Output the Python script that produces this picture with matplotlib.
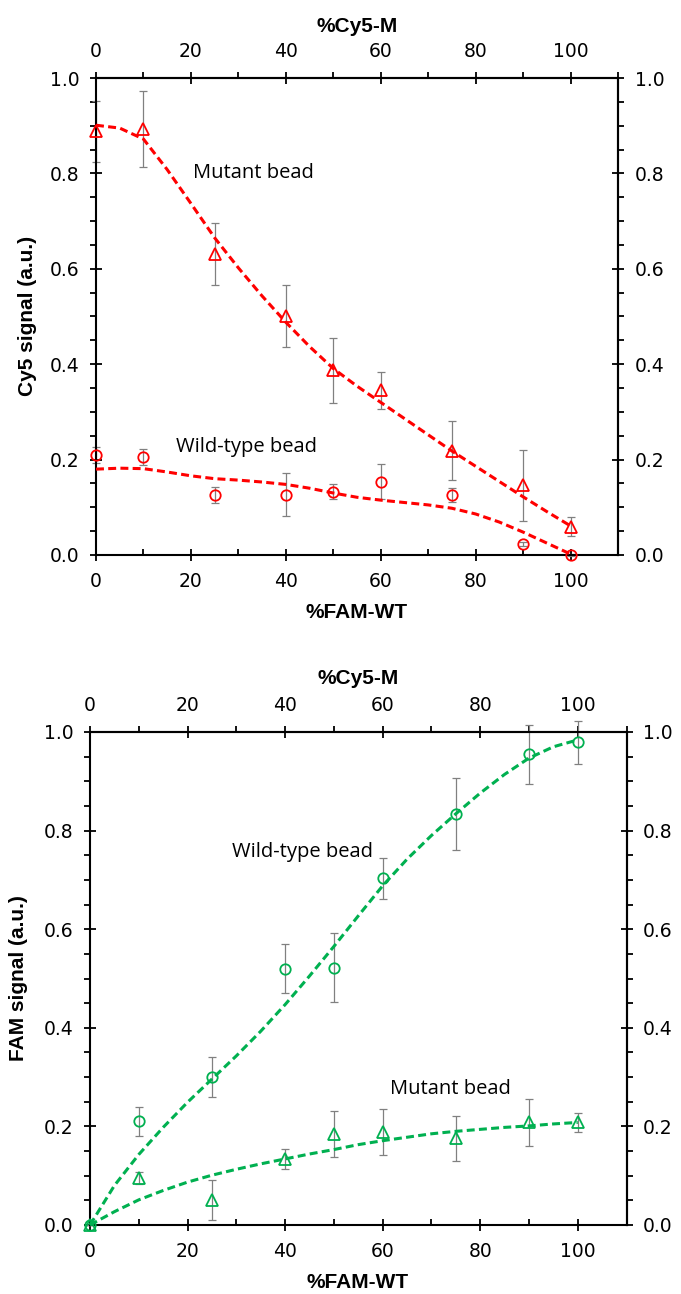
import matplotlib
matplotlib.use("Agg")
import matplotlib.pyplot as plt
from matplotlib.ticker import MultipleLocator, FixedLocator, FormatStrFormatter

# ---- data -------------------------------------------------------------
pct = [0, 10, 25, 40, 50, 60, 75, 90, 100]

# Cy5 channel
cy5_mut = [0.888, 0.893, 0.630, 0.501, 0.387, 0.345, 0.219, 0.146, 0.059]
cy5_mut_err = [0.064, 0.079, 0.065, 0.064, 0.068, 0.038, 0.062, 0.075, 0.020]
cy5_wt = [0.210, 0.205, 0.126, 0.126, 0.133, 0.154, 0.126, 0.023, 0.000]
cy5_wt_err = [0.017, 0.017, 0.017, 0.045, 0.015, 0.037, 0.014, 0.005, 0.002]

# FAM channel
fam_wt = [0.000, 0.210, 0.300, 0.520, 0.522, 0.703, 0.833, 0.955, 0.979]
fam_wt_err = [0.000, 0.030, 0.040, 0.050, 0.070, 0.042, 0.073, 0.060, 0.044]
fam_mut = [0.000, 0.096, 0.051, 0.134, 0.185, 0.189, 0.176, 0.208, 0.208]
fam_mut_err = [0.000, 0.012, 0.041, 0.020, 0.047, 0.046, 0.046, 0.047, 0.020]

# trend curves
fit_x = [0, 5, 10, 15, 20, 25, 30, 35, 40, 45, 50,
         55, 60, 65, 70, 75, 80, 85, 90, 95, 100]
cy5_mut_fit = [0.901, 0.895, 0.872, 0.808, 0.737, 0.665, 0.602, 0.543, 0.488, 0.437, 0.391,
               0.354, 0.320, 0.286, 0.252, 0.218, 0.186, 0.154, 0.122, 0.091, 0.061]
cy5_wt_fit = [0.180, 0.182, 0.181, 0.174, 0.166, 0.160, 0.157, 0.153, 0.148, 0.140, 0.130,
              0.121, 0.115, 0.110, 0.105, 0.098, 0.086, 0.069, 0.048, 0.025, 0.002]
fam_wt_fit = [0.000, 0.080, 0.143, 0.198, 0.249, 0.296, 0.343, 0.393, 0.447, 0.505, 0.565,
              0.627, 0.688, 0.742, 0.790, 0.834, 0.876, 0.914, 0.947, 0.970, 0.984]
fam_mut_fit = [0.000, 0.027, 0.051, 0.070, 0.087, 0.101, 0.113, 0.124, 0.134, 0.144, 0.153,
               0.163, 0.171, 0.178, 0.185, 0.190, 0.194, 0.198, 0.201, 0.205, 0.208]

x_ticks = [0, 20, 40, 60, 80, 100]
y_ticks = [0.0, 0.2, 0.4, 0.6, 0.8, 1.0]
y_minor = [i * 0.05 for i in range(21)]

RED = "#FF0000"
GREEN = "#00B050"
GREY = "#808080"
W, H = 681, 1294

TICK_FONT = dict(family="DejaVu Sans", size=13.5)
LABEL_FONT = dict(family="Liberation Sans", size=15, weight="bold")
NOTE_FONT = dict(family="Open Sans", size=14.5)

fig = plt.figure(figsize=(W / 100, H / 100), dpi=100)


def px_axes(left, top, right, bottom):
    return fig.add_axes([left / W, 1 - bottom / H, (right - left) / W, (bottom - top) / H])


def style_axes(ax):
    ax.set_xlim(0, 110)
    ax.set_ylim(0, 1.0)
    for s in ax.spines.values():
        s.set_linewidth(1.5)
        s.set_color("black")
    ax.xaxis.set_major_locator(FixedLocator(x_ticks))
    ax.xaxis.set_minor_locator(MultipleLocator(10))
    ax.yaxis.set_major_locator(FixedLocator(y_ticks))
    ax.yaxis.set_minor_locator(FixedLocator(y_minor))
    ax.yaxis.set_major_formatter(FormatStrFormatter("%.1f"))
    ax.tick_params(which="major", direction="inout", length=8, width=1.3, pad=8,
                   labelsize=TICK_FONT["size"])
    ax.tick_params(axis="x", which="minor", direction="in", length=4, width=1.3)
    ax.tick_params(axis="y", which="minor", direction="out", length=4, width=1.3)
    for lab in ax.get_xticklabels() + ax.get_yticklabels():
        lab.set_family(TICK_FONT["family"])

    top = ax.secondary_xaxis("top")
    top.xaxis.set_major_locator(FixedLocator(x_ticks))
    top.xaxis.set_minor_locator(MultipleLocator(10))
    top.tick_params(which="major", direction="inout", length=8, width=1.3, pad=8,
                    labelsize=TICK_FONT["size"])
    top.tick_params(which="minor", direction="out", length=4, width=1.3)
    top.spines["top"].set_linewidth(1.5)
    for lab in top.get_xticklabels():
        lab.set_family(TICK_FONT["family"])

    right = ax.secondary_yaxis("right")
    right.yaxis.set_major_locator(FixedLocator(y_ticks))
    right.yaxis.set_minor_locator(FixedLocator(y_minor))
    right.yaxis.set_major_formatter(FormatStrFormatter("%.1f"))
    right.tick_params(which="major", direction="inout", length=8, width=1.3, pad=8,
                      labelsize=TICK_FONT["size"])
    right.tick_params(which="minor", direction="out", length=4, width=1.3)
    right.spines["right"].set_linewidth(1.5)
    for lab in right.get_yticklabels():
        lab.set_family(TICK_FONT["family"])


def series(ax, y, err, fit, color, marker):
    ax.errorbar(pct, y, yerr=err, fmt="none", ecolor=GREY, elinewidth=0.9,
                capsize=3, capthick=0.9, zorder=2, clip_on=False)
    ax.plot(pct, y, linestyle="none", marker=marker, markersize=8 if marker == "^" else 7.5,
            markerfacecolor="none", markeredgecolor=color, markeredgewidth=1.3,
            zorder=3, clip_on=False)
    ax.plot(fit_x, fit, color=color, linewidth=2.2, linestyle=(0, (2.6, 1.4)),
            zorder=4, clip_on=False)


# ---- Cy5 panel --------------------------------------------------------
ax1 = px_axes(96, 78, 618, 555)
style_axes(ax1)
series(ax1, cy5_mut, cy5_mut_err, cy5_mut_fit, RED, "^")
series(ax1, cy5_wt, cy5_wt_err, cy5_wt_fit, RED, "o")
ax1.text(20.4, 0.80, "Mutant bead", ha="left", va="center", **NOTE_FONT)
ax1.text(16.8, 0.227, "Wild-type bead", ha="left", va="center", **NOTE_FONT)

# ---- FAM panel --------------------------------------------------------
ax2 = px_axes(90, 732, 626.5, 1225)
style_axes(ax2)
series(ax2, fam_wt, fam_wt_err, fam_wt_fit, GREEN, "o")
series(ax2, fam_mut, fam_mut_err, fam_mut_fit, GREEN, "^")
ax2.text(29.1, 0.757, "Wild-type bead", ha="left", va="center", **NOTE_FONT)
ax2.text(61.6, 0.275, "Mutant bead", ha="left", va="center", **NOTE_FONT)

# ---- axis titles ------------------------------------------------------
def ftext(x, y, s, **kw):
    fig.text(x / W, 1 - y / H, s, ha="center", va="center", **LABEL_FONT, **kw)

ftext(357, 27, "%Cy5-M")
ftext(357, 612, "%FAM-WT")
ftext(28, 316, "Cy5 signal (a.u.)", rotation=90)

ftext(358, 679, "%Cy5-M")
ftext(358, 1283, "%FAM-WT")
ftext(19, 978, "FAM signal (a.u.)", rotation=90)

fig.savefig("out.png", dpi=100)
